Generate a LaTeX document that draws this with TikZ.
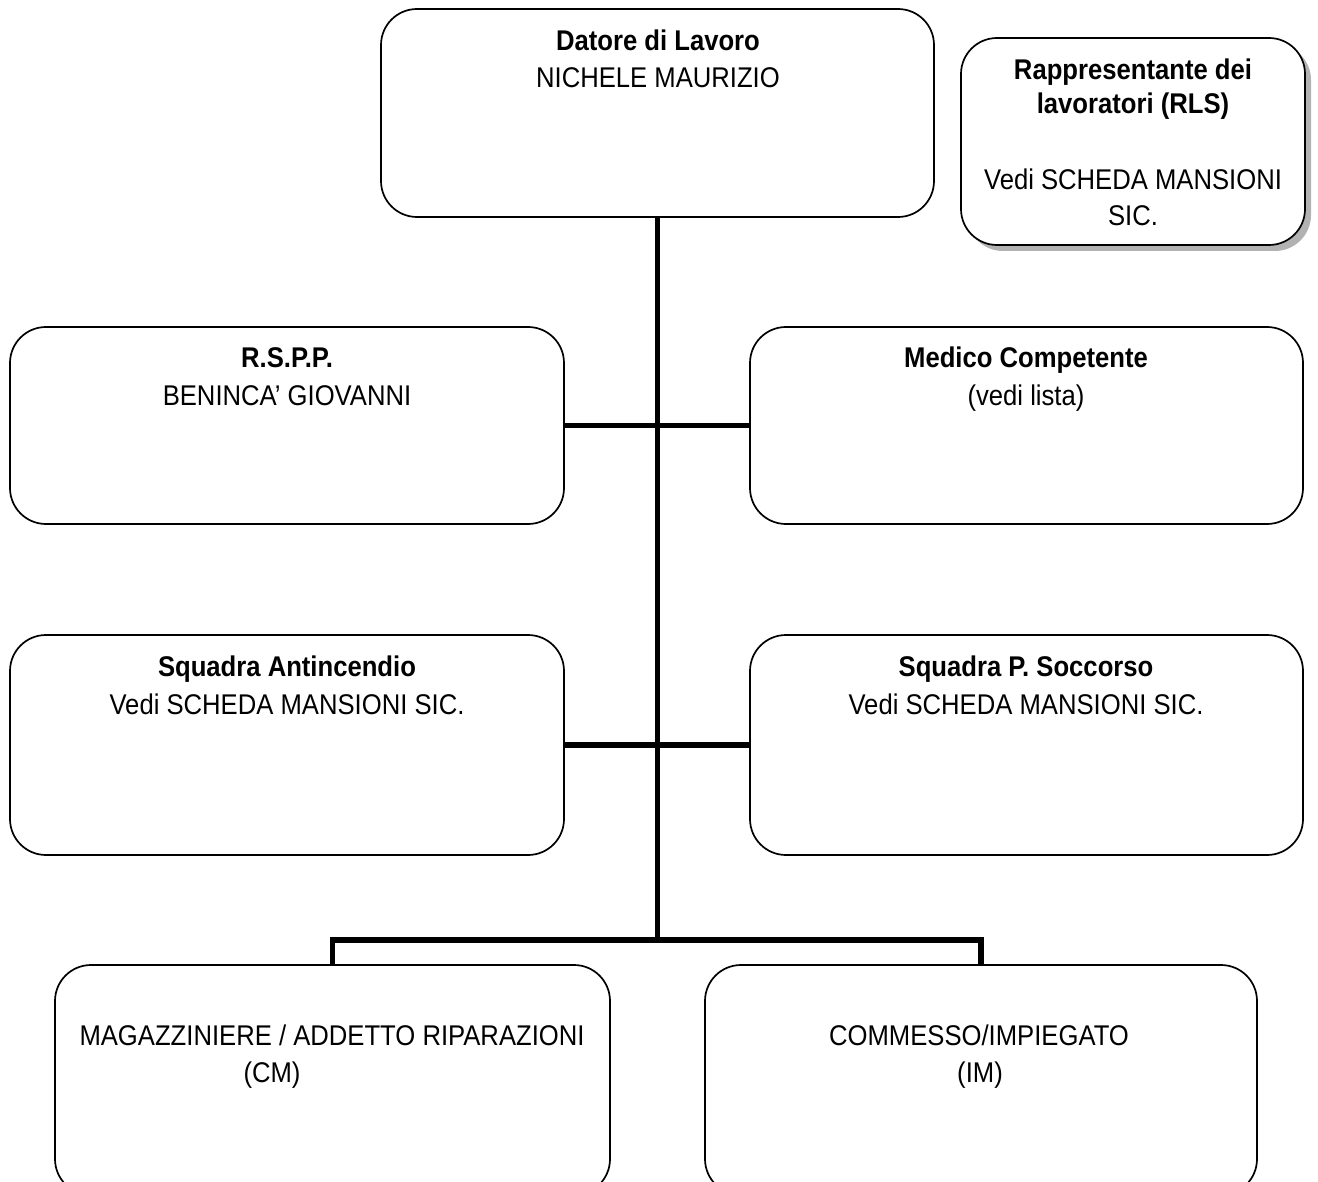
\documentclass[tikz,border=0pt]{standalone}
\usepackage{fontspec}
\setmainfont{Liberation Sans}[FakeStretch=0.9]
\begin{document}
\begin{tikzpicture}[x=1pt,y=-1pt,
  box/.style={draw, line width=1.7pt, rounded corners=36pt, inner sep=0pt, fill=white},
  conn/.style={line width=5.5pt},
  txt/.style={anchor=base, inner sep=0pt, font=\fontsize{28.5}{37}\selectfont},
  ttl/.style={anchor=base, inner sep=0pt, font=\fontsize{28.5}{37}\selectfont\bfseries}]
\useasboundingbox (0,0) rectangle (1318,1182);

% boxes
\node[box, minimum width=553pt, minimum height=208pt] (dl) at (657.5,113) {};
\fill[gray!60, rounded corners=36pt] (967,44) rectangle (1311,251);
\node[box, minimum width=344pt, minimum height=207pt] (rls) at (1133,141.5) {};
\node[box, minimum width=554pt, minimum height=197pt] (rspp) at (287,425.5) {};
\node[box, minimum width=553pt, minimum height=197pt] (med) at (1026.5,425.5) {};
\node[box, minimum width=554pt, minimum height=220pt] (sqa) at (287,745) {};
\node[box, minimum width=553pt, minimum height=220pt] (sqp) at (1026.5,745) {};
\node[box, minimum width=555pt, minimum height=230pt] (mag) at (332.5,1080) {};
\node[box, minimum width=552pt, minimum height=230pt] (com) at (981,1080) {};

% connectors
\coordinate (bus) at (657.5,940);
\draw[conn] (dl.south) -- (bus);
\draw[conn] (rspp.east) -- (med.west);
\draw[conn] (sqa.east) -- (sqp.west);
\draw[conn] (mag.north) |- (bus) -| (com.north);

% texts
\node[ttl] (dlA) at (658,51) {Datore di Lavoro};
\node[txt] (dlB) at (658,88) {NICHELE MAURIZIO};

\node[ttl] (rlsA) at (1133,80) {Rappresentante dei};
\node[ttl] (rlsB) at (1133,114) {lavoratori (RLS)};
\node[txt] (rlsC) at (1133,190) {Vedi SCHEDA MANSIONI};
\node[txt] (rlsD) at (1133,226) {SIC.};

\node[ttl] (rsppA) at (287,368) {R.S.P.P.};
\node[txt] (rsppB) at (287,406) {BENINCA' GIOVANNI};

\node[ttl] (medA) at (1026,368) {Medico Competente};
\node[txt] (medB) at (1026,406) {(vedi lista)};

\node[ttl] (sqaA) at (287,676) {Squadra Antincendio};
\node[txt] (sqaB) at (287,714) {Vedi SCHEDA MANSIONI SIC.};

\node[ttl] (sqpA) at (1026,676) {Squadra P. Soccorso};
\node[txt] (sqpB) at (1026,714) {Vedi SCHEDA MANSIONI SIC.};

\node[txt] (magA) at (332,1045) {MAGAZZINIERE / ADDETTO RIPARAZIONI};
\node[txt] (magB) at (272,1082) {(CM)};

\node[txt] (comA) at (979,1045) {COMMESSO/IMPIEGATO};
\node[txt] (comB) at (980,1082) {(IM)};
\end{tikzpicture}
\end{document}
